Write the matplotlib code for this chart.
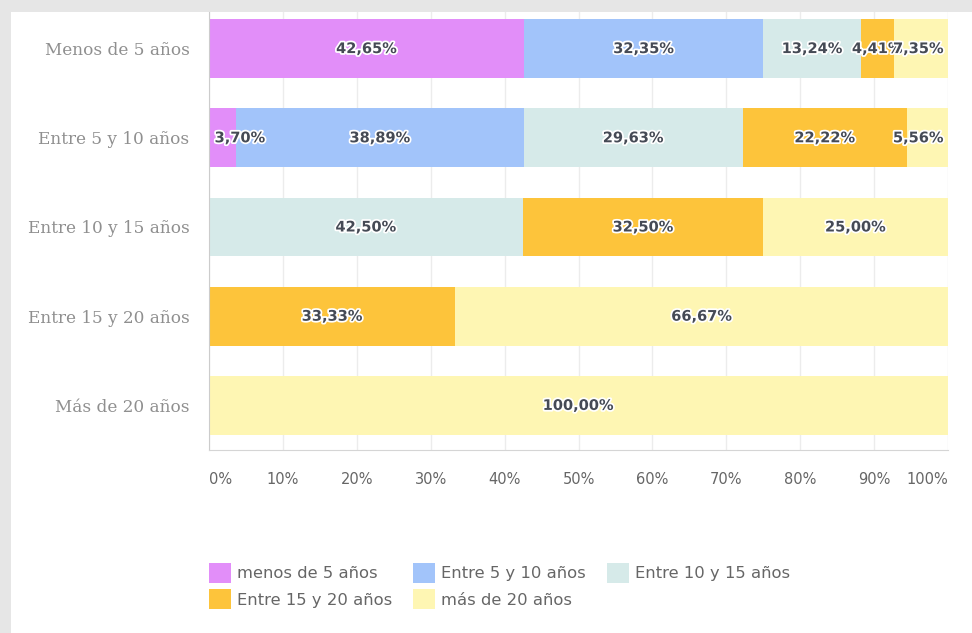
import matplotlib
matplotlib.use("Agg")
import matplotlib.pyplot as plt
import matplotlib.patheffects as pe
from matplotlib.patches import Rectangle
import numpy as np

categories = ["Menos de 5 años", "Entre 5 y 10 años", "Entre 10 y 15 años",
              "Entre 15 y 20 años", "Más de 20 años"]
series_names = ["menos de 5 años", "Entre 5 y 10 años", "Entre 10 y 15 años",
                "Entre 15 y 20 años", "más de 20 años"]
# rows: categories, columns: series (percent)
values = [
    [42.65, 32.35, 13.24, 4.41, 7.35],
    [3.70, 38.89, 29.63, 22.22, 5.56],
    [0.0, 0.0, 42.50, 32.50, 25.00],
    [0.0, 0.0, 0.0, 33.33, 66.67],
    [0.0, 0.0, 0.0, 0.0, 100.00],
]
colors = ["#e28ef9", "#a2c4fa", "#d6eae9", "#fdc43b", "#fef6b3"]
xticks = [0, 10, 20, 30, 40, 50, 60, 70, 80, 90, 100]
xtick_labels = ["0%", "10%", "20%", "30%", "40%", "50%", "60%", "70%", "80%", "90%", "100%"]

W, H = 972, 633
fig = plt.figure(figsize=(W / 100, H / 100), dpi=100)
fig.patch.set_facecolor("#e6e6e6")
bg = Rectangle((11 / W, 0), 1 - 11 / W, 1 - 12 / H,
               transform=fig.transFigure, facecolor="white",
               edgecolor="none", zorder=-10)
fig.add_artist(bg)

ax = fig.add_axes([209 / W, 183 / H, (948 - 209) / W, (621 - 183) / H])
ax.set_facecolor("white")
ax.set_zorder(1)

vals = np.array(values)
y = np.arange(len(categories))
left = np.zeros(len(categories))
for j, name in enumerate(series_names):
    ax.barh(y, vals[:, j], left=left, height=0.66, color=colors[j],
            label=name, zorder=2)
    for i in range(len(categories)):
        v = vals[i, j]
        if v > 0:
            c = left[i] + v / 2
            c = min(max(c, 4.2), 96.0)
            t = ax.text(c, y[i], f"{v:.2f}%".replace(".", ","), ha="center",
                        va="center", fontsize=10.5, fontweight="bold",
                        color="#454a55", zorder=3,
                        family="DejaVu Sans")
            t.set_path_effects([pe.withStroke(linewidth=2.5, foreground="white")])
    left += vals[:, j]

ax.set_xlim(0, 100)
ax.set_ylim(4.5, -0.41)
ax.set_xticks(xticks)
ax.set_xticklabels(xtick_labels, fontsize=10.5, color="#666666",
                   family="DejaVu Sans")
xl = ax.get_xticklabels()
xl[0].set_horizontalalignment("left")
xl[-1].set_horizontalalignment("right")
ax.set_yticks(y)
ax.set_yticklabels(categories, fontsize=12.2, color="#8f8f8f",
                   family="DejaVu Serif")
ax.tick_params(axis="x", length=0, pad=16)
ax.tick_params(axis="y", length=0, pad=14)
ax.grid(axis="x", color="#ececec", linewidth=1, zorder=0)
ax.set_axisbelow(True)
for s in ["top", "right"]:
    ax.spines[s].set_visible(False)
ax.spines["left"].set_color("#cccccc")
ax.spines["bottom"].set_color("#d5d5d5")

handles, labels = ax.get_legend_handles_labels()
order = [0, 3, 1, 4, 2]
leg = fig.legend([handles[k] for k in order], [labels[k] for k in order],
                 loc="upper left",
                 bbox_to_anchor=(194 / W, 1 - 548 / H), ncol=3, frameon=False,
                 fontsize=11.8, handlelength=1.35, handleheight=1.5,
                 handletextpad=0.35, columnspacing=1.3, labelspacing=0.4)
for t in leg.get_texts():
    t.set_color("#666666")

fig.savefig("out.png", dpi=100, facecolor=fig.get_facecolor())
